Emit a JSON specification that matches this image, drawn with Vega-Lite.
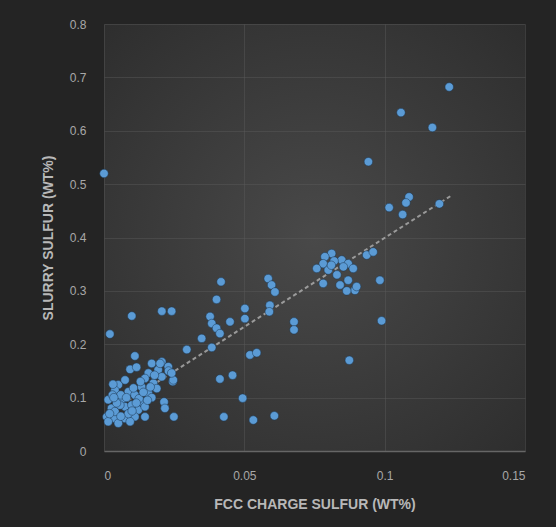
{
  "$schema": "https://vega.github.io/schema/vega-lite/v6.json",
  "width": 421,
  "height": 427,
  "autosize": {"type": "none"},
  "padding": {"left": 104, "top": 24, "right": 31, "bottom": 76},
  "background": "#242424",
  "config": {
    "view": {
      "stroke": null,
      "fill": {"gradient": "radial", "x1": 0.5, "y1": 0.5, "x2": 0.5, "y2": 0.5, "r1": 0, "r2": 0.8,
        "stops": [{"offset": 0, "color": "#494949"}, {"offset": 1, "color": "#2a2a2a"}]}
    },
    "axis": {
      "gridColor": "#5a5a5a",
      "gridOpacity": 0.45,
      "gridWidth": 1,
      "ticks": false,
      "labelColor": "#a8a8a8",
      "labelFont": "Liberation Sans",
      "labelFontSize": 12,
      "titleColor": "#b8b8b8",
      "titleFont": "Liberation Sans",
      "titleFontSize": 14,
      "titleFontWeight": "bold"
    }
  },
  "datasets": {
    "pts": [
      {"x": 0.1230, "y": 0.682}, {"x": 0.1058, "y": 0.634}, {"x": 0.1170, "y": 0.606}, {"x": 0.0942, "y": 0.542},
      {"x": 0.1087, "y": 0.476}, {"x": 0.1076, "y": 0.465}, {"x": 0.1016, "y": 0.456}, {"x": 0.1064, "y": 0.443},
      {"x": 0.1195, "y": 0.463}, {"x": 0.0000, "y": 0.520},
      {"x": 0.0811, "y": 0.370}, {"x": 0.0787, "y": 0.364}, {"x": 0.0781, "y": 0.351}, {"x": 0.0758, "y": 0.342},
      {"x": 0.0799, "y": 0.339}, {"x": 0.0847, "y": 0.358}, {"x": 0.0870, "y": 0.351}, {"x": 0.0853, "y": 0.345},
      {"x": 0.0888, "y": 0.342}, {"x": 0.0781, "y": 0.314}, {"x": 0.0841, "y": 0.311}, {"x": 0.0870, "y": 0.320},
      {"x": 0.0894, "y": 0.301}, {"x": 0.0936, "y": 0.367}, {"x": 0.0959, "y": 0.373}, {"x": 0.0983, "y": 0.320},
      {"x": 0.0989, "y": 0.244}, {"x": 0.0677, "y": 0.242}, {"x": 0.0677, "y": 0.227}, {"x": 0.0874, "y": 0.170},
      {"x": 0.0820, "y": 0.356}, {"x": 0.0830, "y": 0.330}, {"x": 0.0900, "y": 0.308}, {"x": 0.0865, "y": 0.300},
      {"x": 0.0810, "y": 0.348},
      {"x": 0.0417, "y": 0.317}, {"x": 0.0401, "y": 0.284}, {"x": 0.0206, "y": 0.262}, {"x": 0.0241, "y": 0.262},
      {"x": 0.0585, "y": 0.323}, {"x": 0.0597, "y": 0.311}, {"x": 0.0609, "y": 0.298}, {"x": 0.0591, "y": 0.273},
      {"x": 0.0589, "y": 0.261}, {"x": 0.0502, "y": 0.267}, {"x": 0.0502, "y": 0.248}, {"x": 0.0449, "y": 0.242},
      {"x": 0.0378, "y": 0.252}, {"x": 0.0384, "y": 0.239}, {"x": 0.0401, "y": 0.230}, {"x": 0.0413, "y": 0.220},
      {"x": 0.0348, "y": 0.211}, {"x": 0.0384, "y": 0.194}, {"x": 0.0295, "y": 0.190},
      {"x": 0.0520, "y": 0.180}, {"x": 0.0544, "y": 0.184}, {"x": 0.0413, "y": 0.135}, {"x": 0.0458, "y": 0.142},
      {"x": 0.0494, "y": 0.099}, {"x": 0.0427, "y": 0.064}, {"x": 0.0532, "y": 0.058}, {"x": 0.0607, "y": 0.066},
      {"x": 0.0214, "y": 0.092}, {"x": 0.0217, "y": 0.080}, {"x": 0.0249, "y": 0.064}, {"x": 0.0245, "y": 0.130},
      {"x": 0.0099, "y": 0.253}, {"x": 0.0021, "y": 0.219},
      {"x": 0.0110, "y": 0.178}, {"x": 0.0093, "y": 0.153}, {"x": 0.0116, "y": 0.157}, {"x": 0.0170, "y": 0.164},
      {"x": 0.0206, "y": 0.167}, {"x": 0.0229, "y": 0.158}, {"x": 0.0193, "y": 0.152}, {"x": 0.0158, "y": 0.146},
      {"x": 0.0146, "y": 0.136}, {"x": 0.0247, "y": 0.133}, {"x": 0.0206, "y": 0.139}, {"x": 0.0176, "y": 0.127},
      {"x": 0.0134, "y": 0.120}, {"x": 0.0051, "y": 0.124}, {"x": 0.0039, "y": 0.114}, {"x": 0.0087, "y": 0.111},
      {"x": 0.0110, "y": 0.105}, {"x": 0.0158, "y": 0.108}, {"x": 0.0188, "y": 0.117}, {"x": 0.0015, "y": 0.096},
      {"x": 0.0063, "y": 0.096}, {"x": 0.0134, "y": 0.092}, {"x": 0.0027, "y": 0.080}, {"x": 0.0075, "y": 0.083},
      {"x": 0.0122, "y": 0.077}, {"x": 0.0146, "y": 0.083}, {"x": 0.0010, "y": 0.064}, {"x": 0.0039, "y": 0.061},
      {"x": 0.0075, "y": 0.061}, {"x": 0.0110, "y": 0.064}, {"x": 0.0146, "y": 0.064}, {"x": 0.0015, "y": 0.055},
      {"x": 0.0051, "y": 0.052}, {"x": 0.0093, "y": 0.055}, {"x": 0.0039, "y": 0.074}, {"x": 0.0087, "y": 0.070},
      {"x": 0.0057, "y": 0.086}, {"x": 0.0099, "y": 0.086}, {"x": 0.0075, "y": 0.133}, {"x": 0.0032, "y": 0.125},
      {"x": 0.0200, "y": 0.164}, {"x": 0.0230, "y": 0.150}, {"x": 0.0241, "y": 0.146}, {"x": 0.0180, "y": 0.142},
      {"x": 0.0125, "y": 0.098}, {"x": 0.0170, "y": 0.100}, {"x": 0.0060, "y": 0.105}, {"x": 0.0020, "y": 0.070},
      {"x": 0.0130, "y": 0.130}, {"x": 0.0105, "y": 0.118}, {"x": 0.0165, "y": 0.120}, {"x": 0.0045, "y": 0.090},
      {"x": 0.0030, "y": 0.105}, {"x": 0.0080, "y": 0.100}, {"x": 0.0115, "y": 0.090}, {"x": 0.0155, "y": 0.095},
      {"x": 0.0060, "y": 0.065}, {"x": 0.0100, "y": 0.075}, {"x": 0.0035, "y": 0.100}, {"x": 0.0140, "y": 0.110}
    ],
    "trend": [{"x": 0.0, "y": 0.066}, {"x": 0.1236, "y": 0.478}]
  },
  "layer": [
    {
      "data": {"name": "trend"},
      "mark": {"type": "line", "color": "#b0b0b0", "strokeWidth": 2, "strokeDash": [4, 3], "opacity": 0.8},
      "encoding": {
        "x": {"field": "x", "type": "quantitative"},
        "y": {"field": "y", "type": "quantitative"}
      }
    },
    {
      "data": {"name": "pts"},
      "mark": {"type": "circle", "size": 72, "color": "#5b9bd5", "opacity": 1, "stroke": "#1c3550", "strokeWidth": 1, "strokeOpacity": 0.5},
      "encoding": {
        "x": {"field": "x", "type": "quantitative", "scale": {"domain": [0, 0.15], "nice": false},
          "axis": {"title": "FCC CHARGE SULFUR (WT%)", "values": [0, 0.05, 0.1, 0.15], "format": "~g",
            "domain": true, "domainColor": "#666666", "domainWidth": 1.5, "labelPadding": 19, "titlePadding": 16}},
        "y": {"field": "y", "type": "quantitative", "scale": {"domain": [0, 0.8], "nice": false},
          "axis": {"title": "SLURRY SULFUR (WT%)", "values": [0, 0.1, 0.2, 0.3, 0.4, 0.5, 0.6, 0.7, 0.8], "format": "~g",
            "domain": false, "labelPadding": 18, "titlePadding": 14}}
      }
    }
  ]
}
